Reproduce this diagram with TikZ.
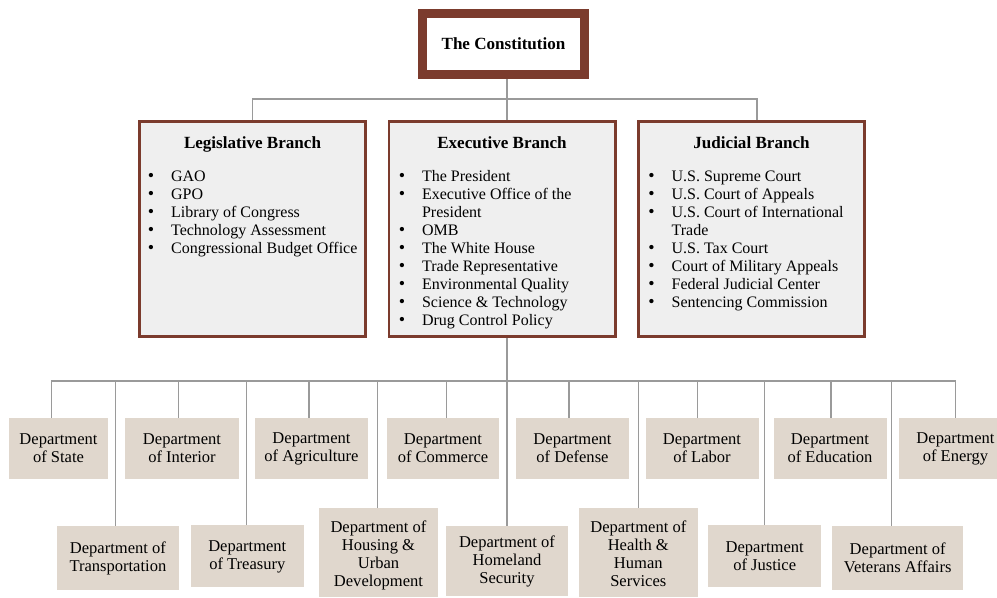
\documentclass[tikz,border=0pt]{standalone}
\usepackage{fontspec}
\setmainfont{Liberation Serif}
\usetikzlibrary{calc}
\definecolor{brn}{HTML}{7B3B2D}
\definecolor{brfill}{HTML}{EFEFEF}
\definecolor{dpfill}{HTML}{E0D7CD}
\definecolor{conngray}{HTML}{9A9A9A}
\newcommand\bul{\makebox[17.5pt][l]{{\fontsize{13.5}{13.5}\selectfont\textbullet}}}
\newcommand\cont{\hspace*{17.5pt}}
\newcommand\toprule{\rule{0pt}{14.9pt}}
\newcommand\botrule{\rule[-4pt]{0pt}{4pt}}
\begin{document}
\begin{tikzpicture}[x=0.75pt,y=-0.75pt,
  consti/.style={draw=brn,line width=6.75pt,fill=white,minimum width=121.5pt,minimum height=45.75pt,inner sep=0pt,font=\fontsize{12.8}{15}\selectfont\bfseries},
  branch/.style={draw=brn,line width=2pt,fill=brfill,minimum width=169.75pt,minimum height=161.5pt,inner sep=0pt},
  btitle/.style={anchor=base,inner sep=0pt,font=\fontsize{12.8}{15}\selectfont\bfseries},
  blist/.style={anchor=base west,inner sep=0pt,font=\fontsize{12}{13.5}\selectfont},
  dept/.style={fill=dpfill,inner sep=0pt,align=center,font=\fontsize{12.4}{13.5}\selectfont},
  conn/.style={draw=conngray,line width=1.1pt}]
\useasboundingbox (0,0) rectangle (997,598);

% top box
\node[consti] (const) at (503.5,44) {The Constitution};

% branches
\node[branch] (leg) at (252.5,229) {};
\node[branch] (exe) at (502,229) {};
\node[branch] (jud) at (751.5,229) {};

\node[btitle] (legt) at ($(leg.north)+(0,29)$) {Legislative Branch};
\node[btitle] (exet) at ($(exe.north)+(0,29)$) {Executive Branch};
\node[btitle] (judt) at ($(jud.north)+(0,29)$) {Judicial Branch};

\node[blist] (legl) at ($(leg.north west)+(9.5,62)$) {%
\begin{tabular}[t]{@{}l@{}}
\bul GAO\\
\bul GPO\\
\bul Library of Congress\\
\bul Technology Assessment\\
\bul Congressional Budget Office
\end{tabular}};

\node[blist] (exel) at ($(exe.north west)+(11,62)$) {%
\begin{tabular}[t]{@{}l@{}}
\bul The President\\
\bul Executive Office of the\\
\cont President\\
\bul OMB\\
\bul The White House\\
\bul Trade Representative\\
\bul Environmental Quality\\
\bul Science \& Technology\\
\bul Drug Control Policy
\end{tabular}};

\node[blist] (judl) at ($(jud.north west)+(11,62)$) {%
\begin{tabular}[t]{@{}l@{}}
\bul U.S. Supreme Court\\
\bul U.S. Court of Appeals\\
\bul U.S. Court of International\\
\cont Trade\\
\bul U.S. Tax Court\\
\bul Court of Military Appeals\\
\bul Federal Judicial Center\\
\bul Sentencing Commission
\end{tabular}};

% departments, row 1
\node[dept,minimum width=74.25pt,minimum height=45.75pt] (st) at (58.5,448.5) {Department\\of State};
\node[dept,minimum width=85.5pt,minimum height=45.75pt] (in) at (182,448.5) {Department\\of Interior};
\node[dept,minimum width=84.75pt,minimum height=45.75pt] (ag) at (311.5,448.5) {Department\\of Agriculture};
\node[dept,minimum width=84pt,minimum height=45.75pt] (co) at (443,448.5) {Department\\of Commerce};
\node[dept,minimum width=84.75pt,minimum height=45.75pt] (de) at (572.5,448.5) {Department\\of Defense};
\node[dept,minimum width=84.75pt,minimum height=45.75pt] (la) at (702,448.5) {Department\\of Labor};
\node[dept,minimum width=84.75pt,minimum height=45.75pt] (ed) at (830,448.5) {Department\\of Education};
\node[dept,minimum width=85.5pt,minimum height=45.75pt] (en) at (955.5,448.5) {Department\\of Energy};

% departments, row 2
\node[dept,minimum width=91.5pt,minimum height=48pt] (tr) at (117.9,558) {Department of\\Transportation};
\node[dept,minimum width=84.75pt,minimum height=46.5pt] (ts) at (247.3,556.5) {Department\\of Treasury};
\node[dept,minimum width=89.25pt,minimum height=66.75pt] (ho) at (378.5,552.7) {\toprule Department of\\Housing \&\\Urban\\Development\botrule};
\node[dept,minimum width=91.5pt,minimum height=52.5pt] (hs) at (507,561) {Department of\\Homeland\\Security};
\node[dept,minimum width=89.25pt,minimum height=66.75pt] (he) at (638.3,552.7) {\toprule Department of\\Health \&\\Human\\Services\botrule};
\node[dept,minimum width=84.75pt,minimum height=46.5pt] (ju) at (764.7,556.5) {Department\\of Justice};
\node[dept,minimum width=98.25pt,minimum height=48pt] (va) at (897.7,558) {Department of\\Veterans Affairs};

% connectors: constitution to branches
\coordinate (tbus) at (507,99);
\coordinate (bus) at (507,381);
\draw[conn] ($(const.south)+(3.5,0)$) -- ($(exe.north)+(5,0)$);
\draw[conn] (leg.north) |- (tbus) -| ($(jud.north)+(5.5,0)$);

% executive to departments
\draw[conn] ($(exe.south)+(5,0)$) -- (hs.north);
\draw[conn] (st.north) ++(-6.8,0) |- (bus) -- (bus -| en.north);
\draw[conn] (en.north) |- (bus);
\draw[conn] (in.north) ++(-3.7,0) |- (bus);
\draw[conn] (ag.north) ++(-2.5,0) |- (bus);
\draw[conn] (co.north) ++(3.7,0) |- (bus);
\draw[conn] (de.north) ++(-3.5,0) |- (bus);
\draw[conn] (la.north) ++(-4.7,0) |- (bus);
\draw[conn] (ed.north) ++(1,0) |- (bus);
\draw[conn] (tr.north) ++(-2.2,0) |- (bus);
\draw[conn] (ts.north) ++(-1,0) |- (bus);
\draw[conn] (ho.north) ++(-0.8,0) |- (bus);
\draw[conn] (he.north) |- (bus);
\draw[conn] (ju.north) |- (bus);
\draw[conn] (va.north) ++(-6,0) |- (bus);
\end{tikzpicture}
\end{document}
